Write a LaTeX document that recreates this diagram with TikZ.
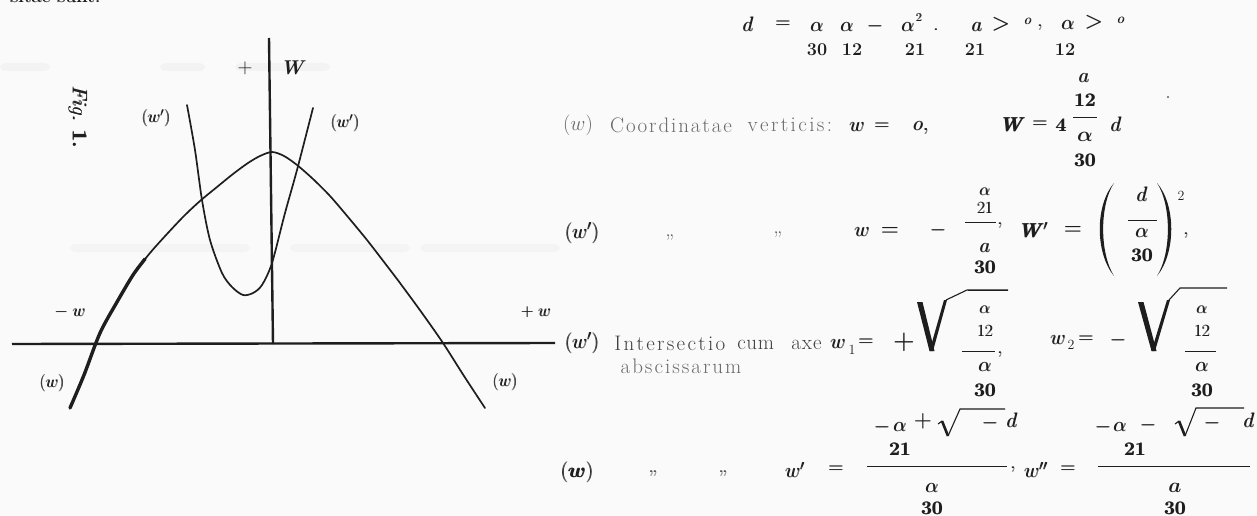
\documentclass[tikz,border=0pt]{standalone}
\usepackage{amsmath}
\usepackage{fontspec}
\definecolor{paper}{HTML}{FAFAFA}
\definecolor{ink}{HTML}{1E1E1E}
\definecolor{pale}{HTML}{6A6A6A}
\definecolor{smudge}{HTML}{EDEDED}
\newcommand{\hv}[1]{\rlap{#1}\kern0.7pt#1}
\makeatletter
\newcommand{\spc}[2][2pt]{\@tfor\my@ch:=#2\do{\my@ch\kern#1}}
\makeatother
\begin{document}
\begin{tikzpicture}[x=1pt,y=-1pt,
  mth/.style={inner sep=0pt,text=ink,font=\fontsize{20}{24}\selectfont},
  dig/.style={inner sep=0pt,text=ink,font=\fontsize{19}{22}\selectfont\bfseries},
  sdig/.style={inner sep=0pt,text=ink,font=\fontsize{18}{20}\selectfont\bfseries},
  word/.style={inner sep=0pt,text=pale,font=\fontsize{21}{24}\selectfont},
  flbl/.style={inner sep=0pt,text=ink,font=\fontsize{18}{22}\selectfont},
  ditto/.style={inner sep=0pt,text=ink!80,font=\fontsize{20}{22}\selectfont},
  axisline/.style={draw=ink,line width=2.4pt},
  crv/.style={draw=ink,line width=1.7pt,line cap=round,line join=round},
  fracrule/.style={draw=ink,line width=1pt},
  radthin/.style={draw=ink,line width=1.1pt},
]
\fill[paper] (0,0) rectangle (1257,516);
\useasboundingbox (0,0) rectangle (1257,516);
% faint smudges of the scan
\fill[smudge,opacity=0.5,rounded corners=5pt] (0,63) rectangle (50,71);
\fill[smudge,opacity=0.5,rounded corners=5pt] (160,63) rectangle (205,71);
\fill[smudge,opacity=0.5,rounded corners=5pt] (235,63) rectangle (330,71);
\fill[smudge,opacity=0.4,rounded corners=5pt] (70,244) rectangle (250,252);
\fill[smudge,opacity=0.4,rounded corners=5pt] (290,244) rectangle (410,252);
\fill[smudge,opacity=0.4,rounded corners=5pt] (420,244) rectangle (560,252);

% cut-off heading
\node[inner sep=0pt,anchor=base west,text=ink,font=\fontsize{22}{26}\selectfont] (head) at (10,3) {\hv{sitae sunt.}};

% ---------------- figure ----------------
\coordinate (vtop) at (269,38);
\coordinate (vbot) at (273,344);
\coordinate (hl) at (12,344);
\coordinate (hr) at (555,343);
\draw[axisline] (vtop) -- (vbot);
\draw[axisline] (hl) -- (hr);
\draw[crv] plot[smooth,tension=0.5] coordinates {(70,408) (84,375) (100,333) (117,302) (133,275) (150,253) (167,234) (184,216) (200,201) (217,187) (233,174) (248,163) (260,156) (272,152) (284,156) (297,165) (313,179) (330,196) (348,217) (367,240) (384,262) (400,283) (422,313) (443,343) (464,376) (485,408)};
\draw[crv,line width=3.4pt] plot[smooth,tension=0.5] coordinates {(70,408) (84,375) (100,333) (117,302) (133,275) (145,259)};
\draw[crv] plot[smooth,tension=0.5] coordinates {(187,105) (195,150) (202,200) (210,240) (222,273) (232,287) (243,295) (253,293) (262,285) (272,263) (285,213) (297,170) (313,108)};

\node[flbl,font=\fontsize{22}{24}\selectfont] (plus) at (245,68) {$+$};
\node[flbl,font=\fontsize{20}{24}\selectfont] (Wlab) at (293,68) {\textbf{\textit{W}}};
\node[flbl,rotate=-90,font=\fontsize{21}{24}\selectfont] (fig) at (78,117) {\hv{\textit{Fig.} \textbf{1.}}};
\node[flbl] (wpl) at (156,118) {\hv{$(w')$}};
\node[flbl] (wpr) at (345,123) {\hv{$(w')$}};
\node[flbl] (mw) at (70,312) {\hv{$-\;w$}};
\node[flbl] (pw) at (536,312) {\hv{$+\;w$}};
\node[flbl] (wl) at (52,383) {\hv{$(w)$}};
\node[flbl] (wr) at (505,382) {\hv{$(w)$}};

% ---------------- line 1 ----------------
\node[mth] (l1d) at (748,24) {\hv{$d$}};
\node[mth] (l1eq) at (783,25) {\hv{$=$}};
\node[mth] (l1a1) at (817,27) {\hv{$\alpha$}};
\node[mth] (l1a2) at (847,27) {\hv{$\alpha$}};
\node[mth] (l1mi) at (875,26) {\hv{$-$}};
\node[mth] (l1a3) at (908,27) {\hv{$\alpha$}};
\node[mth,font=\fontsize{12}{14}\selectfont] (l1sq) at (919,18) {\hv{2}};
\node[mth] (l1pt) at (936,30) {\hv{.}};
\node[mth] (l1a) at (977,27) {\hv{$a$}};
\node[mth,font=\fontsize{22}{26}\selectfont] (l1gt1) at (1001,24) {$\boldsymbol{>}$};
\node[mth,font=\fontsize{15}{18}\selectfont] (l1o1) at (1028,21) {\hv{$o$}};
\node[mth] (l1cm) at (1040,28) {\hv{,}};
\node[mth] (l1a4) at (1068,25) {\hv{$\alpha$}};
\node[mth,font=\fontsize{22}{26}\selectfont] (l1gt2) at (1094,22) {$\boldsymbol{>}$};
\node[mth,font=\fontsize{15}{18}\selectfont] (l1o2) at (1121,20) {\hv{$o$}};
\node[sdig] (l1s1) at (817,50) {30};
\node[sdig] (l1s2) at (852,50) {12};
\node[sdig] (l1s3) at (915,50) {21};
\node[sdig] (l1s4) at (975,50) {21};
\node[sdig] (l1s5) at (1065,50) {12};

% ---------------- line 2 ----------------
\node[word] (l2w) at (578,125) {$(w)$};
\node[word] (l2t1) at (672,125) {\spc[1.9pt]{Coordinatae}};
\node[word] (l2t2) at (791,125) {\spc[2.4pt]{verticis:}};
\node[mth] (l2x) at (857,127) {\hv{$w$}};
\node[mth] (l2eq) at (882,127) {\hv{$=$}};
\node[mth] (l2o) at (921,128) {\hv{$o,$}};
\node[mth] (l2W) at (1012,125) {\hv{\textbf{\textit{W}}}};
\node[mth] (l2eq2) at (1040,125) {\hv{$=$}};
\node[dig] (l2four) at (1061,125) {\hv{4}};
\node[mth] (l2na) at (1084,78) {\hv{$a$}};
\node[dig] (l2n12) at (1085,100) {\hv{12}};
\coordinate (l2fa) at (1073,118);
\coordinate (l2fb) at (1097,118);
\draw[fracrule] (l2fa) -- (l2fb);
\node[mth] (l2da) at (1085,137) {$\boldsymbol{\alpha}$};
\node[dig] (l2d30) at (1085,160) {\hv{30}};
\node[mth] (l2d) at (1116,124) {\hv{$d$}};
\fill[ink!70] (1168,97) circle (1.2);

% ---------------- line 3 ----------------
\node[mth] (l3w) at (582,233) {\hv{$(w')$}};
\node[ditto] (l3q1) at (670,238) {„};
\node[ditto] (l3q2) at (778,235) {„};
\node[mth] (l3x) at (862,232) {\hv{$w$}};
\node[mth] (l3eq) at (890,231) {$\boldsymbol{=}$};
\node[mth] (l3mi) at (938,230) {\hv{$-$}};
\node[mth,font=\fontsize{16}{18}\selectfont] (l3na) at (985,192) {\hv{$\alpha$}};
\node[dig,font=\fontsize{17}{20}\selectfont] (l3n21) at (985,208) {\hv{21}};
\coordinate (l3fa) at (965,222);
\coordinate (l3fb) at (996,222);
\draw[fracrule] (l3fa) -- (l3fb);
\node[mth] (l3cm) at (1000,226) {\hv{,}};
\node[mth] (l3da) at (985,248) {\hv{$a$}};
\node[dig] (l3d30) at (985,267) {\hv{30}};
\coordinate (l3oa) at (968,290);
\coordinate (l3ob) at (1008,290);
\draw[fracrule] (l3oa) -- (l3ob);
\node[mth] (l3W) at (1033,230) {\hv{\textbf{\textit{W}}$'$}};
\node[mth] (l3eq2) at (1073,230) {$\boldsymbol{=}$};
\fill[ink] (1114,183) .. controls (1095,205) and (1095,253) .. (1114,276) .. controls (1099.5,253) and (1099.5,205) .. (1114,183) -- cycle;
\fill[ink] (1157,183) .. controls (1176,205) and (1176,253) .. (1157,276) .. controls (1171.5,253) and (1171.5,205) .. (1157,183) -- cycle;
\node[mth] (l3pd) at (1142,194) {\hv{$d$}};
\coordinate (l3pa) at (1128,220);
\coordinate (l3pb) at (1157,220);
\draw[fracrule] (l3pa) -- (l3pb);
\node[mth] (l3pal) at (1142,233) {\hv{$\alpha$}};
\node[dig] (l3p30) at (1142,255) {\hv{30}};
\node[dig,font=\fontsize{14}{16}\selectfont] (l3sq) at (1181,196) {2};
\node[mth] (l3cm2) at (1186,236) {\hv{,}};

% ---------------- line 4 ----------------
\node[mth] (l4w) at (582,343) {\hv{$(w')$}};
\node[word,text=ink!85] (l4t1) at (671,343) {\spc[2.3pt]{Intersectio}};
\node[word,text=ink!85] (l4t2) at (756,345) {\spc[0.6pt]{cum}};
\node[word,text=ink!85] (l4t3) at (807,345) {\spc[1pt]{axe}};
\node[word] (l4t4) at (682,366) {\spc[2pt]{abscissarum}};
\node[mth] (l4x1) at (838,344) {\hv{$w$}};
\node[dig,font=\fontsize{14}{16}\selectfont] (l4s1) at (852,350) {1};
\node[mth] (l4eq) at (866,343) {\hv{$=$}};
\node[mth,font=\fontsize{26}{28}\selectfont] (l4pl) at (904,342) {$\boldsymbol{+}$};
% radical 1
\fill[ink] (917,302) -- (922.5,302) -- (934.5,351) -- (929.5,351) -- cycle;
\fill[ink] (929.5,351) -- (933,351) -- (947,300) -- (944,300) -- cycle;
\coordinate (r1a) at (946,300);
\coordinate (r1b) at (967,290);
\coordinate (r1c) at (1008,290);
\draw[radthin] (r1a) -- (r1b) -- (r1c);
\node[mth,font=\fontsize{16}{18}\selectfont] (l4na) at (985,310) {\hv{$\alpha$}};
\node[dig,font=\fontsize{17}{20}\selectfont] (l4n12) at (985,331) {\hv{12}};
\coordinate (l4fa) at (962,351);
\coordinate (l4fb) at (995,351);
\draw[fracrule] (l4fa) -- (l4fb);
\node[mth] (l4cm) at (1000,355) {\hv{,}};
\node[mth] (l4da) at (985,367) {\hv{$\alpha$}};
\node[dig] (l4d30) at (985,390) {\hv{30}};
\node[mth] (l4x2) at (1058,340) {\hv{$w$}};
\node[dig,font=\fontsize{14}{16}\selectfont] (l4s2) at (1071,345) {2};
\node[mth] (l4eq2) at (1086,340) {\hv{$=$}};
\node[mth] (l4mi) at (1118,340) {\hv{$-$}};
% radical 2
\fill[ink] (1138,302) -- (1143.5,302) -- (1156.5,351) -- (1151.5,351) -- cycle;
\fill[ink] (1151.5,351) -- (1155,351) -- (1170,300) -- (1167,300) -- cycle;
\coordinate (r2a) at (1169,300);
\coordinate (r2b) at (1180,288);
\coordinate (r2c) at (1227,288);
\draw[radthin] (r2a) -- (r2b) -- (r2c);
\node[mth,font=\fontsize{16}{18}\selectfont] (l4na2) at (1202,310) {\hv{$\alpha$}};
\node[dig,font=\fontsize{17}{20}\selectfont] (l4n122) at (1202,331) {\hv{12}};
\coordinate (l4fc) at (1185,351);
\coordinate (l4fd) at (1216,351);
\draw[fracrule] (l4fc) -- (l4fd);
\node[mth] (l4da2) at (1202,367) {\hv{$\alpha$}};
\node[dig] (l4d302) at (1202,390) {\hv{30}};

% ---------------- line 5 ----------------
\node[mth] (l5w) at (577,472) {\hv{$(\boldsymbol{w})$}};
\node[ditto] (l5q1) at (653,474) {\hv{„}};
\node[ditto] (l5q2) at (723,474) {\hv{„}};
\node[mth] (l5x) at (795,470) {\hv{$w'$}};
\node[mth] (l5eq) at (836,470) {\hv{$=$}};
% first fraction
\node[mth] (l5m1) at (882,427) {\hv{$-$}};
\node[mth] (l5a1) at (900,427) {\hv{$\alpha$}};
\node[mth,font=\fontsize{22}{24}\selectfont] (l5p1) at (923,421) {$\boldsymbol{+}$};
\coordinate (s1a) at (938,424);
\coordinate (s1b) at (942,421);
\coordinate (s1c) at (948,436);
\coordinate (s1d) at (960,409);
\coordinate (s1e) at (1005,409);
\draw[radthin] (s1a) -- (s1b);
\draw[draw=ink,line width=2.6pt] (s1b) -- (s1c);
\draw[radthin] (s1c) -- (s1d) -- (s1e);
\node[mth] (l5m2) at (990,423) {\hv{$-$}};
\node[mth] (l5d1) at (1012,420) {\hv{$d$}};
\node[dig] (l5n21a) at (900,449) {\hv{21}};
\coordinate (l5fa) at (867,466);
\coordinate (l5fb) at (1007,466);
\draw[fracrule] (l5fa) -- (l5fb);
\node[mth] (l5cm) at (1013,470) {\hv{,}};
\node[mth] (l5da1) at (932,488) {\hv{$\alpha$}};
\node[dig] (l5d30a) at (932,508) {\hv{30}};
\node[mth] (l5x2) at (1036,470) {\hv{$w''$}};
\node[mth] (l5eq2) at (1068,470) {\hv{$=$}};
% second fraction
\node[mth] (l5m3) at (1103,427) {\hv{$-$}};
\node[mth] (l5a2) at (1120,427) {\hv{$\alpha$}};
\node[mth] (l5m4) at (1148,425) {\hv{$-$}};
\coordinate (s2a) at (1175,424);
\coordinate (s2b) at (1179,421);
\coordinate (s2c) at (1185,436);
\coordinate (s2d) at (1196,408);
\coordinate (s2e) at (1244,408);
\draw[radthin] (s2a) -- (s2b);
\draw[draw=ink,line width=2.6pt] (s2b) -- (s2c);
\draw[radthin] (s2c) -- (s2d) -- (s2e);
\node[mth] (l5m5) at (1212,423) {\hv{$-$}};
\node[mth] (l5d2) at (1249,420) {\hv{$d$}};
\node[dig] (l5n21b) at (1135,449) {\hv{21}};
\coordinate (l5fc) at (1098,466);
\coordinate (l5fd) at (1250,466);
\draw[fracrule] (l5fc) -- (l5fd);
\node[mth] (l5da2) at (1175,488) {$\boldsymbol{a}$};
\node[dig] (l5d30b) at (1175,508) {\hv{30}};
\end{tikzpicture}
\end{document}
